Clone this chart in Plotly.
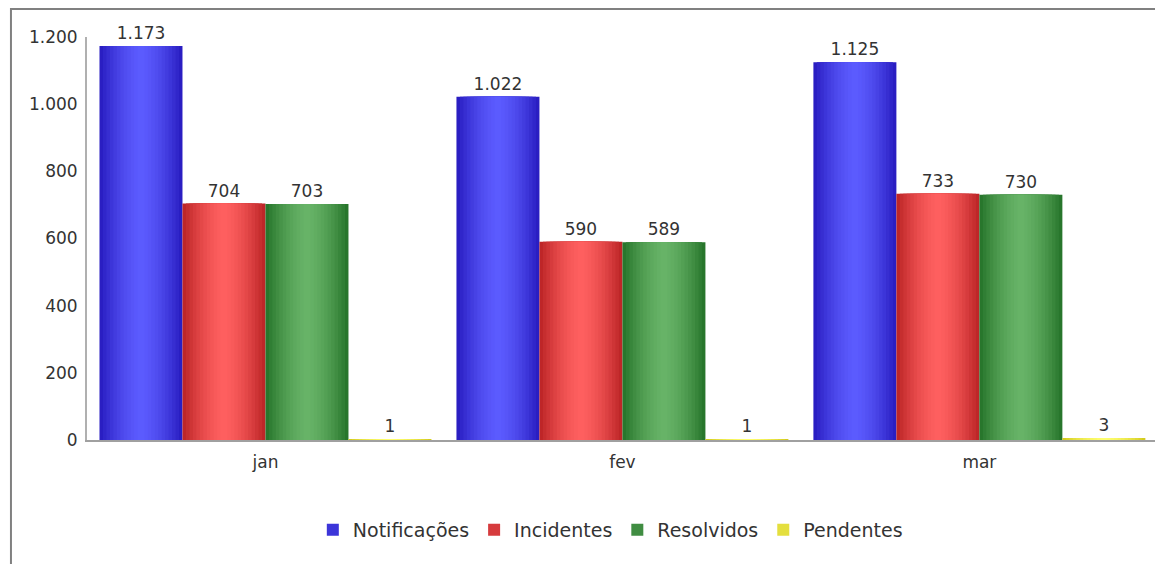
import plotly.graph_objects as go

months = ["jan", "fev", "mar"]
series_names = ["Notificações", "Incidentes", "Resolvidos", "Pendentes"]
notificacoes = [1173, 1022, 1125]
incidentes = [704, 590, 733]
resolvidos = [703, 589, 730]
pendentes = [1, 1, 3]
y_ticks = [0, 200, 400, 600, 800, 1000, 1200]

series_values = [notificacoes, incidentes, resolvidos, pendentes]
# (edge colour, centre colour)
palette = [
    ((0x2a, 0x1e, 0xc2), (0x5c, 0x5c, 0xff)),
    ((0xbe, 0x26, 0x28), (0xff, 0x60, 0x60)),
    ((0x28, 0x76, 0x2c), (0x68, 0xb4, 0x68)),
    ((0xd4, 0xcc, 0x20), (0xff, 0xff, 0x70)),
]

def mix(a, b, s):
    return "rgb(%d,%d,%d)" % tuple(round(a[i] + (b[i] - a[i]) * s) for i in range(3))

bargap = 0.07
slot = (1 - bargap) / 4
n_layers = 12
legend_layer = 3
x_idx = list(range(len(months)))

fig = go.Figure()
for i, (name, vals) in enumerate(zip(series_names, series_values)):
    edge, centre = palette[i]
    c_off = (-1.5 + i) * slot
    for k in range(n_layers):
        frac = 1 - k / n_layers
        s = 1 - frac ** 1.6
        w = slot * frac
        fig.add_trace(go.Bar(
            x=x_idx, y=vals, width=w, offset=c_off - w / 2,
            marker=dict(color=mix(edge, centre, s), line=dict(width=0)),
            name=name, legendgroup=name, legendrank=i + 1,
            showlegend=(k == legend_layer),
            text=[f"{v:,}".replace(",", ".") for v in vals] if k == 0 else None,
            textposition="outside" if k == 0 else "none",
            textfont=dict(family="DejaVu Sans", size=17, color="#333333"),
            cliponaxis=False,
            hoverinfo="skip" if k else "all",
        ))

fig.update_layout(
    width=1155, height=564,
    barmode="overlay",
    separators=",.",
    paper_bgcolor="white", plot_bgcolor="white",
    margin=dict(l=87, r=0, t=37, b=124),
    font=dict(family="DejaVu Sans", size=17, color="#333333"),
    xaxis=dict(
        tickmode="array", tickvals=x_idx, ticktext=months,
        range=[-0.5, 2.492], showline=True, linecolor="#a0a0a0", linewidth=2,
        showgrid=False, zeroline=False, ticks="", ticklabelstandoff=6,
        tickfont=dict(size=17, color="#333333"),
    ),
    yaxis=dict(
        range=[0, 1200], tickvals=y_ticks, tickformat=",d", separatethousands=True,
        showline=True, linecolor="#b0b0b0", linewidth=2,
        showgrid=False, zeroline=False, ticks="", ticklabelstandoff=4,
        tickfont=dict(size=17, color="#333333"),
    ),
    legend=dict(
        orientation="h", x=0.49, xanchor="center", y=-0.223, yanchor="middle",
        font=dict(size=19, color="#333333"), bgcolor="rgba(0,0,0,0)",
        itemsizing="constant", tracegroupgap=0,
    ),
    shapes=[dict(
        type="rect", xref="paper", yref="paper",
        x0=-0.0712, x1=1.02, y0=-0.4, y1=1.0695,
        line=dict(color="#808080", width=2), fillcolor="rgba(0,0,0,0)",
        layer="below",
    )],
)

fig.write_html("out.html")
